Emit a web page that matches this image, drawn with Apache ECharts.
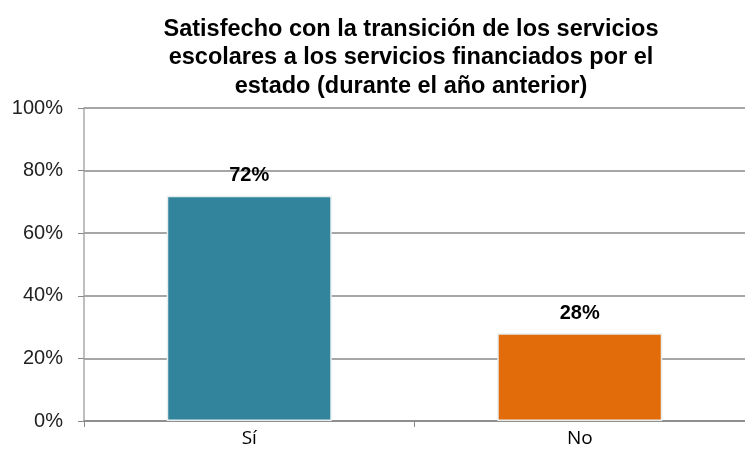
<!DOCTYPE html>
<html><head><meta charset="utf-8">
<script src="https://cdn.jsdelivr.net/npm/echarts@6/dist/echarts.min.js"></script>
<style>html,body{margin:0;padding:0;background:#fff}#c{width:745px;height:454px}</style>
</head><body><div id="c"></div>
<script>
const categories = ['Sí', 'No'];
const values = [72, 28];
const barColors = ['#31849B', '#E36C0A'];
const titleText = 'Satisfecho con la transición de los servicios\nescolares a los servicios financiados por el\nestado (durante el año anterior)';

const chart = echarts.init(document.getElementById('c'));
chart.setOption({
  animation: false,
  title: {
    text: titleText, left: 406, top: 10, textAlign: 'center',
    textStyle: { fontFamily: 'Liberation Sans, Arial', fontWeight: 'bold', fontSize: 23.5, lineHeight: 28.5, color: '#000' }
  },
  grid: { left: 84, width: 668, top: 108, bottom: 33 },
  xAxis: {
    type: 'category', data: categories,
    axisLine: { lineStyle: { color: '#888', width: 1.5 } },
    axisTick: { show: true, length: 6, lineStyle: { color: '#888' } },
    axisLabel: { fontFamily: 'Open Sans, Liberation Sans', fontSize: 19, color: '#000', margin: 8 }
  },
  yAxis: {
    type: 'value', min: 0, max: 100, interval: 20,
    axisLine: { show: true, lineStyle: { color: '#aaa', width: 1.5 } },
    axisTick: { show: true, length: 6, inside: false, lineStyle: { color: '#888' } },
    splitLine: { lineStyle: { color: '#888', width: 1.5 } },
    axisLabel: { formatter: '{value}%', fontFamily: 'Liberation Sans, Arial', fontSize: 20, color: '#222', margin: 21 }
  },
  series: [{
    type: 'bar', barWidth: 165,
    data: values.map((v, i) => ({ value: v, itemStyle: { color: barColors[i], borderColor: '#e8eef0', borderWidth: 1.5 } })),
    label: { show: true, position: 'top', distance: 10, formatter: '{c}%', fontFamily: 'Liberation Sans, Arial', fontWeight: 'bold', fontSize: 20, color: '#000' }
  }]
});
</script></body></html>
